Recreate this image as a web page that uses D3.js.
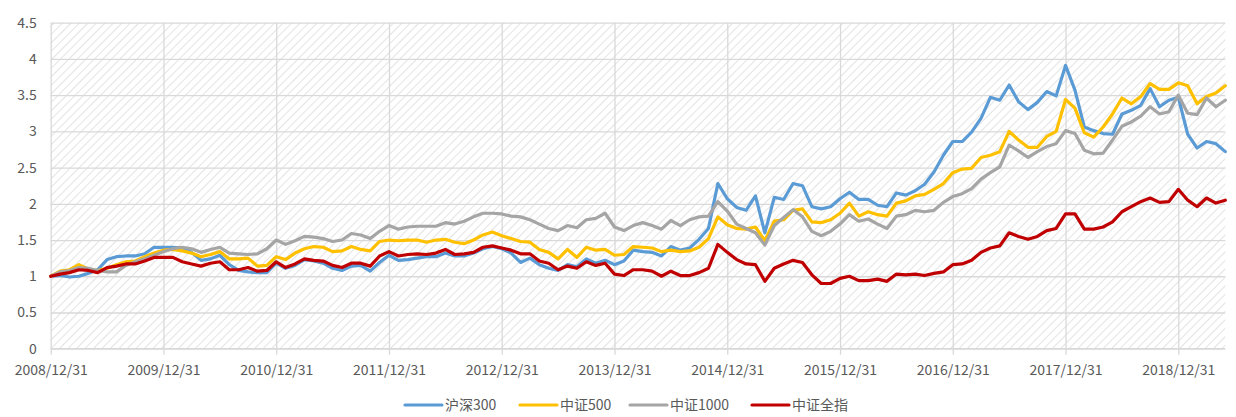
<!DOCTYPE html>
<html><head><meta charset="utf-8">
<script src="https://cdn.jsdelivr.net/npm/d3@7"></script>
<style>
body{margin:0;background:#fff}
svg text{font-family:"Noto Sans CJK SC","Noto Sans",sans-serif;fill:#595959;font-size:14px}
</style>
</head><body>
<svg id="chart" width="1236" height="417"></svg>
<script>
// month-end categories 2008/12 .. 2019/05
const categories = d3.range(126).map(i => {
  const d = new Date(2008, 11 + i + 1, 0);
  return d3.timeFormat("%Y/%m/%d")(d);
});
const xTickLabels = ["2008/12/31","2009/12/31","2010/12/31","2011/12/31","2012/12/31","2013/12/31","2014/12/31","2015/12/31","2016/12/31","2017/12/31","2018/12/31"];
const yTickValues = [0,0.5,1,1.5,2,2.5,3,3.5,4,4.5];
const seriesNames = ["沪深300","中证500","中证1000","中证全指"];
const seriesColors = ["#5B9BD5","#FFC000","#A5A5A5","#C00000"];

const hs300 = [1.00,1.01,0.99,1.00,1.04,1.09,1.23,1.27,1.28,1.28,1.31,1.40,1.40,1.40,1.39,1.33,1.22,1.24,1.29,1.16,
1.08,1.06,1.05,1.05,1.18,1.11,1.15,1.23,1.21,1.18,1.11,1.08,1.14,1.15,1.07,1.19,1.29,1.22,1.23,1.25,
1.27,1.27,1.32,1.28,1.28,1.32,1.38,1.41,1.38,1.32,1.19,1.25,1.16,1.11,1.08,1.16,1.13,1.24,1.18,1.22,
1.16,1.21,1.36,1.34,1.33,1.28,1.41,1.36,1.39,1.51,1.66,2.28,2.07,1.95,1.91,2.11,1.60,2.09,2.06,2.28,
2.25,1.96,1.93,1.96,2.07,2.16,2.06,2.06,1.98,1.96,2.15,2.12,2.18,2.27,2.44,2.67,2.86,2.86,2.99,3.18,
3.47,3.43,3.64,3.41,3.30,3.40,3.55,3.49,3.91,3.57,3.06,3.01,2.97,2.96,3.24,3.29,3.36,3.59,3.34,3.43,
3.47,2.96,2.77,2.86,2.83,2.72];
const zz500 = [1.00,1.07,1.09,1.16,1.10,1.08,1.11,1.16,1.20,1.21,1.27,1.32,1.36,1.37,1.35,1.32,1.27,1.30,1.34,1.24,
1.24,1.25,1.14,1.15,1.27,1.23,1.32,1.38,1.41,1.40,1.34,1.35,1.41,1.37,1.35,1.48,1.50,1.49,1.50,1.50,
1.47,1.50,1.51,1.47,1.45,1.50,1.57,1.61,1.56,1.52,1.48,1.47,1.37,1.33,1.24,1.37,1.26,1.40,1.36,1.37,
1.29,1.30,1.41,1.40,1.39,1.34,1.36,1.34,1.35,1.40,1.52,1.82,1.71,1.66,1.65,1.68,1.49,1.76,1.78,1.91,
1.93,1.75,1.74,1.78,1.87,2.01,1.83,1.89,1.85,1.83,2.01,2.04,2.11,2.13,2.20,2.28,2.43,2.48,2.49,2.64,
2.67,2.72,3.00,2.88,2.78,2.78,2.93,3.00,3.44,3.32,2.98,2.92,3.06,3.24,3.46,3.38,3.48,3.66,3.58,3.58,
3.67,3.63,3.38,3.48,3.53,3.63];
const zz1000 = [1.00,1.06,1.08,1.12,1.11,1.08,1.06,1.06,1.15,1.20,1.24,1.29,1.34,1.38,1.40,1.38,1.33,1.37,1.40,1.32,
1.31,1.30,1.31,1.38,1.50,1.44,1.49,1.55,1.54,1.52,1.48,1.50,1.59,1.57,1.52,1.62,1.70,1.65,1.68,1.69,
1.69,1.69,1.74,1.72,1.76,1.82,1.87,1.87,1.86,1.83,1.82,1.78,1.72,1.66,1.63,1.70,1.67,1.78,1.80,1.87,
1.68,1.63,1.70,1.74,1.70,1.65,1.77,1.70,1.78,1.82,1.83,2.03,1.90,1.72,1.66,1.60,1.43,1.70,1.81,1.92,
1.82,1.62,1.56,1.62,1.72,1.85,1.76,1.79,1.72,1.66,1.83,1.85,1.91,1.89,1.91,2.02,2.10,2.14,2.21,2.34,
2.43,2.51,2.81,2.73,2.64,2.72,2.79,2.83,3.01,2.97,2.74,2.69,2.70,2.88,3.07,3.13,3.21,3.34,3.24,3.27,
3.50,3.25,3.23,3.46,3.34,3.43];
const zzqz = [1.00,1.03,1.05,1.09,1.08,1.05,1.12,1.14,1.17,1.17,1.21,1.26,1.26,1.26,1.20,1.17,1.14,1.18,1.20,1.09,
1.09,1.12,1.07,1.08,1.20,1.12,1.17,1.24,1.22,1.21,1.15,1.12,1.18,1.18,1.14,1.28,1.34,1.28,1.30,1.31,
1.30,1.32,1.37,1.30,1.31,1.33,1.40,1.42,1.39,1.36,1.31,1.31,1.21,1.18,1.09,1.14,1.11,1.20,1.15,1.18,
1.03,1.01,1.09,1.09,1.07,1.00,1.07,1.01,1.01,1.05,1.11,1.44,1.33,1.23,1.17,1.16,0.93,1.11,1.17,1.22,
1.19,1.02,0.90,0.90,0.97,1.00,0.94,0.94,0.96,0.93,1.03,1.02,1.03,1.01,1.04,1.06,1.16,1.17,1.22,1.33,
1.39,1.42,1.60,1.55,1.51,1.55,1.63,1.66,1.86,1.86,1.65,1.65,1.68,1.75,1.89,1.96,2.03,2.08,2.02,2.03,
2.20,2.05,1.96,2.08,2.01,2.05];
const seriesValues = [hs300, zz500, zz1000, zzqz];

const svg = d3.select("#chart");
const L = 50.7, R = 1225.3, T = 22.7, B = 348.7;

const x = d3.scalePoint().domain(categories).range([L, R]);
const y = d3.scaleLinear().domain([0, 4.5]).range([B, T]);

// hatch pattern
const defs = svg.append("defs");
const pat = defs.append("pattern").attr("id","hatch").attr("patternUnits","userSpaceOnUse")
  .attr("width",6).attr("height",6).attr("patternTransform","rotate(45)");
pat.append("rect").attr("width",6).attr("height",6).attr("fill","#ffffff");
pat.append("line").attr("x1",0).attr("y1",0).attr("x2",0).attr("y2",6)
  .attr("stroke","#dcdcdc").attr("stroke-width",1.6);

svg.append("rect").attr("x",L).attr("y",T).attr("width",R-L).attr("height",B-T).attr("fill","url(#hatch)");

// horizontal gridlines + y axis labels
const yAxis = d3.axisLeft(y).tickValues(yTickValues).tickSize(-(R-L)).tickPadding(14)
  .tickFormat(d => d3.format("~g")(d));
const gy = svg.append("g").attr("transform",`translate(${L},0)`).call(yAxis);
gy.select(".domain").remove();
gy.selectAll(".tick line").attr("stroke","#d9d9d9").attr("stroke-width",1.3);
gy.selectAll(".tick text").attr("font-size",14).attr("fill","#595959");

// vertical gridlines at year ticks
const tickCats = xTickLabels.map(t => categories.find(c => c === t));
const xAxis = d3.axisBottom(x).tickValues(tickCats).tickSize(-(B-T)).tickPadding(16);
const gx = svg.append("g").attr("transform",`translate(0,${B})`).call(xAxis);
gx.select(".domain").attr("stroke","#d9d9d9").attr("stroke-width",1.3).attr("d",`M${L},0H${R}`);
gx.selectAll(".tick line").attr("stroke","#d9d9d9").attr("stroke-width",1.3).attr("y1",6);
gx.selectAll(".tick text").attr("font-size",14).attr("fill","#595959");

// lines
const line = d3.line().x((d,i) => x(categories[i])).y(d => y(d)).curve(d3.curveLinear);
seriesValues.forEach((vals, k) => {
  svg.append("path").datum(vals).attr("d", line).attr("fill","none")
    .attr("stroke", seriesColors[k]).attr("stroke-width",3.2).attr("stroke-linejoin","round").attr("stroke-linecap","round");
});

// legend
const legendX = [405, 520, 630, 752];
const lg = svg.append("g");
seriesNames.forEach((n,k) => {
  lg.append("line").attr("x1",legendX[k]).attr("x2",legendX[k]+37).attr("y1",405).attr("y2",405)
    .attr("stroke",seriesColors[k]).attr("stroke-width",3.2).attr("stroke-linecap","round");
  lg.append("text").attr("x",legendX[k]+40).attr("y",405).attr("dy","0.35em").attr("font-size",14).text(n);
});
</script>
</body></html>
